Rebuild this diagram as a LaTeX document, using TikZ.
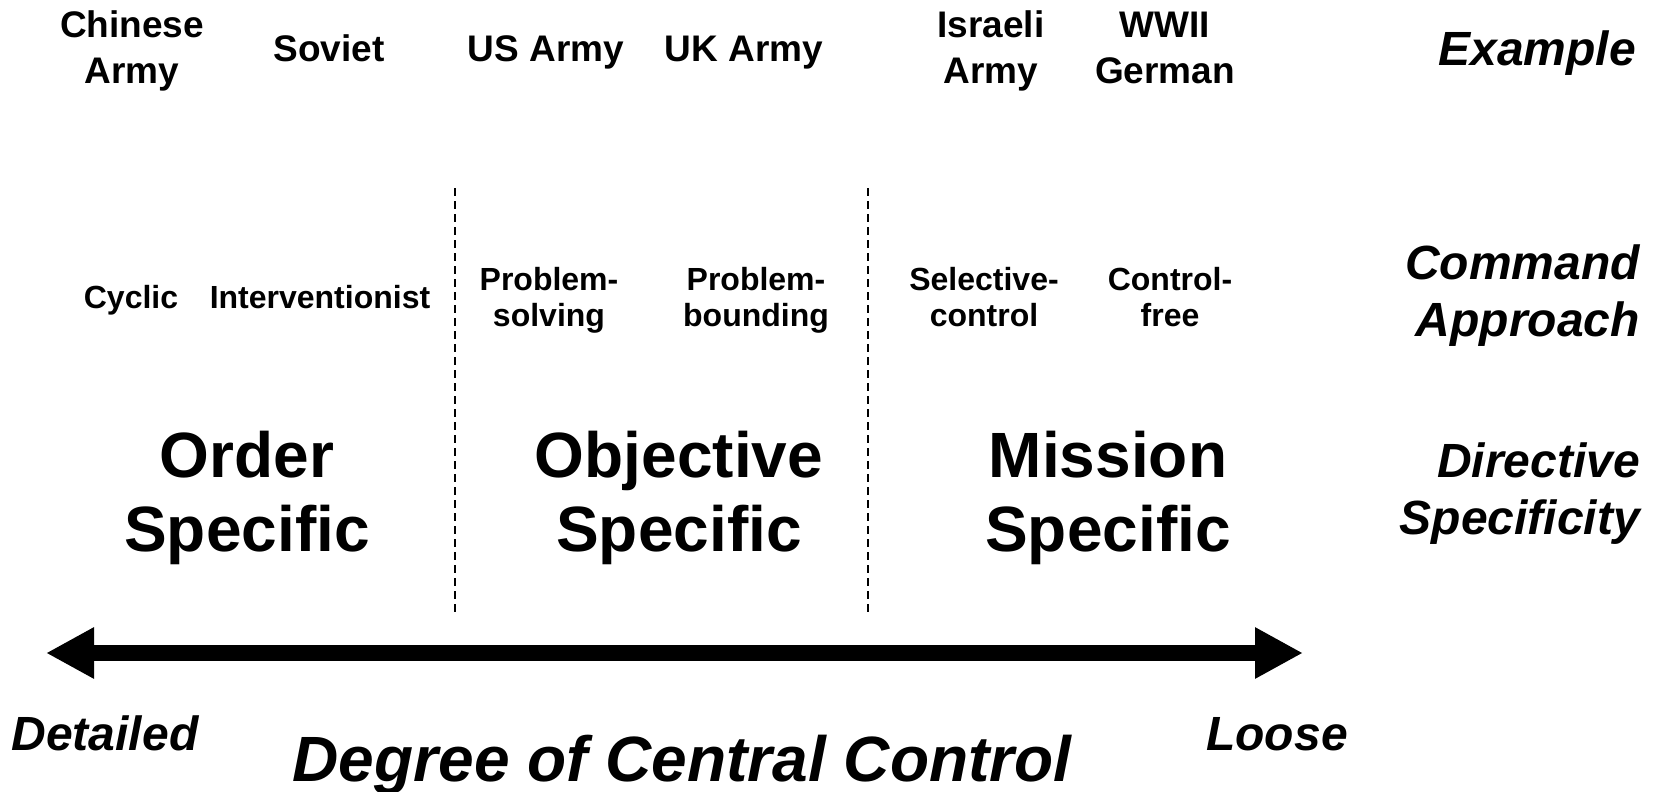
\documentclass[tikz,border=0pt]{standalone}
\usepackage{fontspec}
\setmainfont{Liberation Sans}
\usetikzlibrary{arrows.meta}
\usetikzlibrary{positioning}

\begin{document}
\begin{tikzpicture}[x=1pt,y=-1pt,
      every node/.style={inner sep=0pt,align=center,anchor=base},
      army/.style={font=\fontsize{37}{46.5}\selectfont\bfseries},
      approach/.style={font=\fontsize{32}{36}\selectfont\bfseries},
      specific/.style={font=\fontsize{64}{74}\selectfont\bfseries},
      rowlabel/.style={font=\fontsize{48}{57}\selectfont\bfseries\itshape,align=right,anchor=base east},
      axislabel/.style={font=\fontsize{48}{57}\selectfont\bfseries\itshape},
      divider/.style={line width=2pt,dash pattern=on 7.5pt off 5.5pt},
      axis/.style={line width=16pt,{Triangle[length=48pt,width=48pt]}-{Triangle[length=48pt,width=48pt]}},
    ]
    \useasboundingbox (0,0) rectangle (1660,792);

    % examples
    \node[army] (chinese) at (132,83.8) {Chinese\\Army};
    \node[army] (soviet)  at (329,61.6) {Soviet};
    \node[army] (us)      at (546,61.6) {US Army};
    \node[army] (uk)      at (744,61.6) {UK Army};
    \node[army] (israeli) at (991,83.8) {Israeli\\Army};
    \node[army] (german)  at (1165,83.8) {WWII\\German};
    \node[rowlabel] (example) at (1636,65.9) {Example};

    % command approaches
    \node[approach] (cyclic)   at (131,308) {Cyclic};
    \node[approach] (interv)   at (320,308) {Interventionist};
    \node[approach] (psolving) at (549,326) {Problem-\\solving};
    \node[approach] (pbound)   at (756,326) {Problem-\\bounding};
    \node[approach] (selctl)   at (984,326) {Selective-\\control};
    \node[approach] (ctlfree)  at (1170,326) {Control-\\free};
    \node[rowlabel] (command) at (1640,336.9) {Command\\Approach};

    % directive specificity
    \node[specific] (order)     at (247,551) {Order\\Specific};
    \node[specific] (objective) at (679,551) {Objective\\Specific};
    \node[specific] (mission)   at (1108,551) {Mission\\Specific};
    \node[rowlabel] (directive) at (1640,534) {Directive\\Specificity};

    \coordinate (d1top) at (455,188);
    \coordinate (d1bot) at (455,617);
    \coordinate (d2top) at (868,188);
    \coordinate (d2bot) at (868,617);
    \draw[divider] (d1top) -- (d1bot);
    \draw[divider] (d2top) -- (d2bot);

    % control axis
    \coordinate (detailedend) at (46,653);
    \coordinate (looseend) at (1303,653);
    \draw[axis] (detailedend) -- (looseend);
    \node[axislabel] (detailed) at (105,750.9) {Detailed};
    \node[axislabel] (loose) at (1277,750.9) {Loose};
    \node[specific,font=\fontsize{64}{74}\selectfont\bfseries\itshape] (degree) at (682,781) {Degree of Central Control};
\end{tikzpicture}
\end{document}
